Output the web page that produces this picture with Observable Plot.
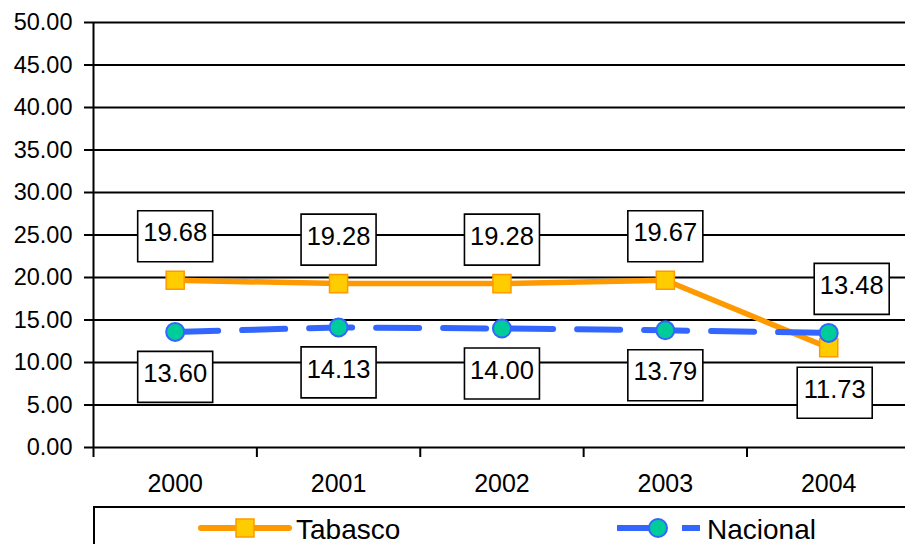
<!DOCTYPE html>
<html><head><meta charset="utf-8">
<script src="https://cdn.jsdelivr.net/npm/d3@7"></script>
<script src="https://cdn.jsdelivr.net/npm/@observablehq/plot@0.6"></script>
<style>
body{margin:0;background:#fff;font-family:"Liberation Sans",Arial,sans-serif;overflow:hidden}
#chart{width:905px;height:544px;position:relative;overflow:hidden;background:#fff}
#chart svg.plot{position:absolute;left:0;top:0}
#legend{position:absolute;left:93px;top:506px;width:840px;height:60px;border:2px solid #000;box-sizing:border-box;background:#fff}
.item{position:absolute;top:0;height:40px}
.item svg{position:absolute;top:0;left:0}
.item span{position:absolute;font-size:28px;color:#000;white-space:nowrap;line-height:1}
</style></head><body><div id="chart"></div>
<script>
const years = ["2000", "2001", "2002", "2003", "2004"];
const tabasco = [19.68, 19.28, 19.28, 19.67, 11.73];
const nacional = [13.60, 14.13, 14.00, 13.79, 13.48];
const yTicks = [0, 5, 10, 15, 20, 25, 30, 35, 40, 45, 50];
const seriesNames = ["Tabasco", "Nacional"];

const orange = "#FF9900", yellow = "#FFCC00", blue = "#3366FF", teal = "#00CC99";

const rows = [];
years.forEach((y, i) => {
  rows.push({i, year: y, value: tabasco[i], series: seriesNames[0], other: nacional[i]});
  rows.push({i, year: y, value: nacional[i], series: seriesNames[1], other: tabasco[i]});
});
const last = years.length - 1;
rows.forEach(r => {
  r.above = r.value >= r.other;
  r.dy = r.above ? -44 : 45;
  r.dx = r.i === last ? (r.above ? 23 : 6) : 0;
});
const tRows = rows.filter(r => r.series === "Tabasco");
const nRows = rows.filter(r => r.series === "Nacional");

const boxSymbol = {draw(ctx) { ctx.rect(-37.5, -25.5, 75, 51); }};

function labelMarks(data) {
  const groups = d3.groups(data, d => `${d.dx},${d.dy}`);
  return groups.flatMap(([, g]) => [
    Plot.dot(g, {x: "i", y: "value", dx: g[0].dx, dy: g[0].dy, symbol: boxSymbol, r: 10, fill: "white", stroke: "black", strokeWidth: 1.6}),
    Plot.text(g, {x: "i", y: "value", dx: g[0].dx, dy: g[0].dy - 3, text: d => d.value.toFixed(2), fontSize: 25.5, fill: "black"})
  ]);
}

const plot = Plot.plot({
  width: 905,
  height: 505,
  marginTop: 22,
  marginBottom: 58,
  marginLeft: 93,
  marginRight: 0,
  style: {fontFamily: "'Liberation Sans', Arial, sans-serif", color: "black", background: "transparent"},
  x: {type: "linear", domain: [-0.5, 4.47]},
  y: {domain: [0, 50]},
  marks: [
    Plot.ruleY(yTicks, {stroke: "black", strokeWidth: 2}),
    Plot.ruleX([-0.5], {stroke: "black", strokeWidth: 2}),
    Plot.axisY({ticks: yTicks, tickSize: 9, tickPadding: 12, tickFormat: d3.format(".2f"), fontSize: 23.5, label: null, stroke: "black", strokeWidth: 2}),
    Plot.axisX({ticks: d3.range(-0.5, years.length, 1), tickSize: 10, tickFormat: () => "", label: null, stroke: "black", strokeWidth: 2}),
    Plot.axisX({ticks: d3.range(years.length), tickSize: 0, tickPadding: 27, tickFormat: i => years[i], fontSize: 25, label: null}),
    Plot.line(tRows, {x: "i", y: "value", stroke: orange, strokeWidth: 5.5}),
    Plot.dot(tRows, {x: "i", y: "value", symbol: "square", r: 10.2, fill: yellow, stroke: orange, strokeWidth: 1.5}),
    Plot.line(nRows, {x: "i", y: "value", stroke: blue, strokeWidth: 6, strokeDasharray: "43,24"}),
    Plot.dot(nRows, {x: "i", y: "value", r: 9, fill: teal, stroke: blue, strokeWidth: 2}),
    ...labelMarks(rows)
  ]
});
plot.classList.add("plot");
const chart = document.getElementById("chart");
chart.appendChild(plot);

// legend
const legend = document.createElement("div");
legend.id = "legend";
legend.innerHTML = `
<div class="item" style="left:103px">
  <svg width="100" height="40"><line x1="3" x2="91" y1="20" y2="20" stroke="${orange}" stroke-width="6" stroke-linecap="round"/>
  <rect x="38" y="11" width="18" height="18" fill="${yellow}" stroke="${orange}" stroke-width="1.5"/></svg>
  <span style="left:98px;top:8px">${seriesNames[0]}</span>
</div>
<div class="item" style="left:520px">
  <svg width="90" height="40"><line x1="2" x2="52" y1="20" y2="20" stroke="${blue}" stroke-width="6"/>
  <line x1="67" x2="85" y1="20" y2="20" stroke="${blue}" stroke-width="6"/>
  <circle cx="43" cy="20" r="9" fill="${teal}" stroke="${blue}" stroke-width="2"/></svg>
  <span style="left:92px;top:8px">${seriesNames[1]}</span>
</div>`;
chart.appendChild(legend);
</script>
</body></html>
